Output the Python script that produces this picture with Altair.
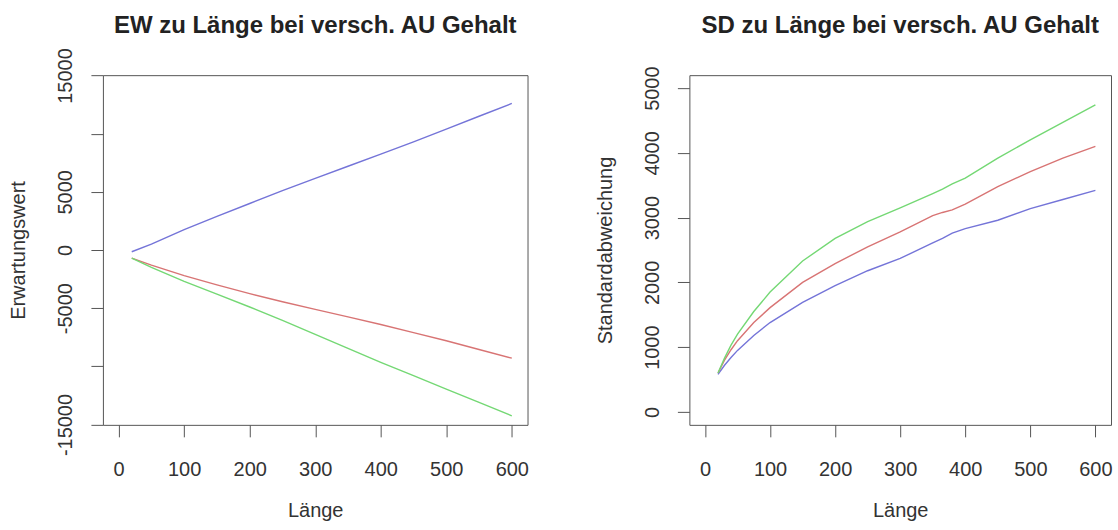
import altair as alt
import pandas as pd

# ---- data ----
ew_x = [20, 50, 100, 150, 200, 250, 300, 350, 400, 450, 500, 550, 600]
ew_blue = [-150, 500, 1750, 2900, 4000, 5100, 6150, 7200, 8250, 9300, 10400, 11500, 12600]
ew_red = [-700, -1300, -2200, -3000, -3750, -4450, -5100, -5750, -6400, -7100, -7800, -8550, -9300]
ew_green = [-700, -1500, -2700, -3800, -4900, -6050, -7250, -8450, -9650, -10800, -11950, -13100, -14250]

sd_x = [20, 30, 40, 50, 75, 100, 150, 200, 250, 300, 350, 365, 380, 400, 450, 500, 550, 600]
sd_blue = [580, 720, 840, 950, 1180, 1380, 1690, 1950, 2180, 2370, 2610, 2680, 2760, 2830, 2960, 3140, 3280, 3420]
sd_red = [600, 800, 960, 1100, 1380, 1610, 2000, 2290, 2550, 2780, 3030, 3080, 3120, 3210, 3480, 3710, 3920, 4100]
sd_green = [600, 830, 1030, 1200, 1550, 1850, 2330, 2680, 2940, 3150, 3370, 3440, 3520, 3610, 3920, 4200, 4470, 4740]

series_names = ["blue", "red", "green"]
series_colors = ["#7474d8", "#d87474", "#74d874"]

x_ticks = [0, 100, 200, 300, 400, 500, 600]
ew_ticks = [-15000, -10000, -5000, 0, 5000, 10000, 15000]
sd_ticks = [0, 1000, 2000, 3000, 4000, 5000]


def long(xs, blue, red, green):
    rows = []
    for name, vals in zip(series_names, [blue, red, green]):
        for xv, yv in zip(xs, vals):
            rows.append({"Länge": xv, "val": yv, "s": name})
    return pd.DataFrame(rows)


ew_df = long(ew_x, ew_blue, ew_red, ew_green)
sd_df = long(sd_x, sd_blue, sd_red, sd_green)

FONT = "Liberation Sans"
TXT = "#333333"
AX = "#555555"

color = alt.Color("s:N", scale=alt.Scale(domain=series_names, range=series_colors), legend=None)


def x_axis():
    return alt.Axis(
        values=x_ticks, labelExpr="'' + datum.value", grid=False, domain=False,
        tickSize=12, tickColor=AX, labelFontSize=20, labelColor=TXT, labelFont=FONT,
        labelPadding=23, titleFontSize=20, titleColor=TXT, titleFont=FONT,
        titleFontWeight="normal", titleY=86, titleBaseline="middle",
        labelFlush=False, labelOverlap=False,
    )


def y_axis(vals, expr):
    return alt.Axis(
        values=vals, labelExpr=expr, grid=False, domain=False,
        tickSize=12, tickColor=AX, labelFontSize=20, labelColor=TXT, labelFont=FONT,
        labelAngle=270, labelAlign="center", labelBaseline="bottom", labelPadding=15,
        titleFontSize=20, titleColor=TXT, titleFont=FONT, titleFontWeight="normal",
        titleX=-84, titleBaseline="middle", titleAngle=270,
        labelFlush=False, labelOverlap=False,
    )


def panel_title(text, off):
    return alt.TitleParams(text, fontSize=24, fontWeight="bold", font=FONT, color="#222222",
                           anchor="middle", frame="group", baseline="alphabetic", offset=off)


left = alt.Chart(ew_df).mark_line(strokeWidth=1.4).encode(
    x=alt.X("Länge:Q", scale=alt.Scale(domain=[-24, 624], nice=False, zero=False), axis=x_axis()),
    y=alt.Y("val:Q", title="Erwartungswert",
            scale=alt.Scale(domain=[-15030, 15030], nice=False, zero=False),
            axis=y_axis(ew_ticks, "abs(datum.value) == 10000 ? '' : '' + datum.value")),
    color=color,
    detail="s:N",
).properties(
    width=425, height=350,
    title=panel_title("EW zu Länge bei versch. AU Gehalt", -9),
)

right = alt.Chart(sd_df).mark_line(strokeWidth=1.4).encode(
    x=alt.X("Länge:Q", scale=alt.Scale(domain=[-24, 624], nice=False, zero=False), axis=x_axis()),
    y=alt.Y("val:Q", title="Standardabweichung",
            scale=alt.Scale(domain=[-200, 5200], nice=False, zero=False),
            axis=y_axis(sd_ticks, "'' + datum.value")),
    color=color,
    detail="s:N",
).properties(
    width=422, height=350,
    title=panel_title("SD zu Länge bei versch. AU Gehalt", 9),
)

chart = alt.hconcat(left, right, spacing=65).properties(
    padding={"left": 8, "top": 13, "right": 5, "bottom": 2},
    background="white",
).configure_view(stroke=AX, strokeWidth=1)

chart.save("out.html", embed_options={"renderer": "svg", "actions": False})
